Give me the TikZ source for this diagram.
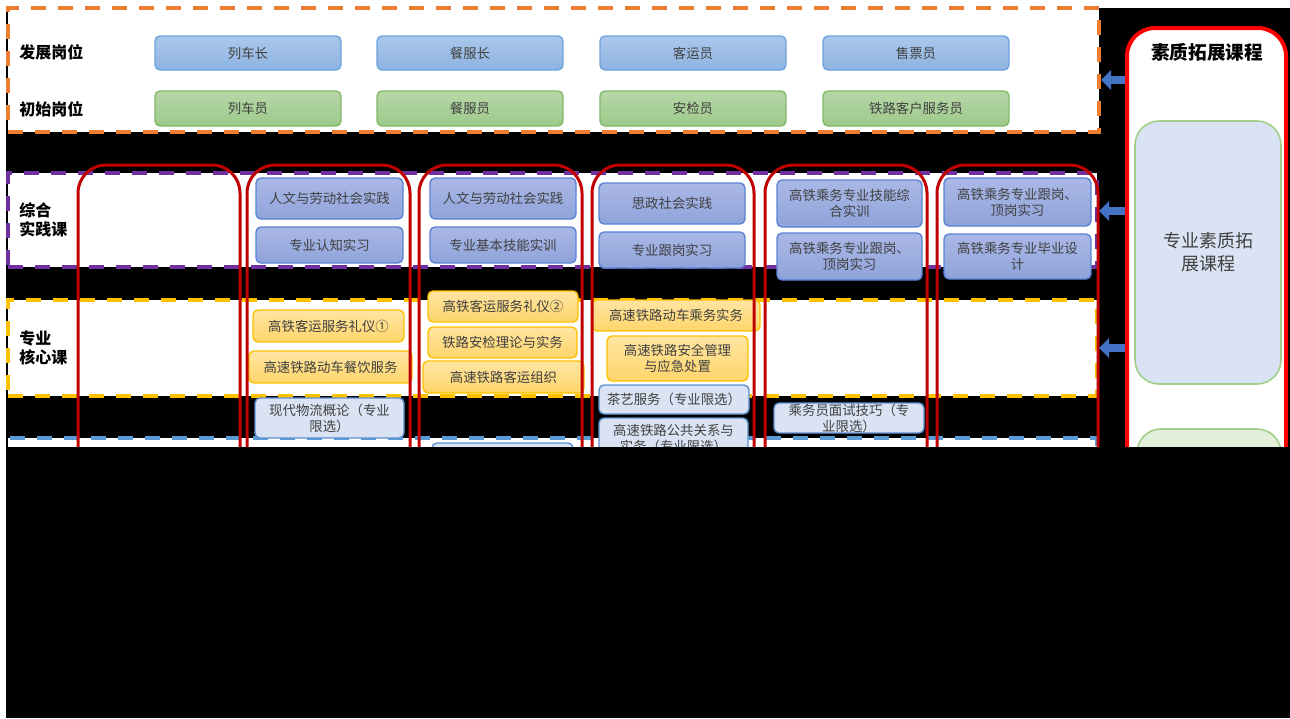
\documentclass[tikz,border=0pt]{standalone}
\usepackage{fontspec}
\setmainfont{Noto Sans CJK SC}
\usetikzlibrary{fit}
\usetikzlibrary{arrows.meta}
\definecolor{jobsorange}{RGB}{237,125,49}
\definecolor{pracpurple}{RGB}{112,48,160}
\definecolor{coregold}{RGB}{255,192,0}
\definecolor{elecblue}{RGB}{91,155,213}
\definecolor{termred}{RGB}{192,0,0}
\definecolor{qualred}{RGB}{255,0,0}
\definecolor{feedblue}{RGB}{68,114,196}
\definecolor{coursetext}{RGB}{64,64,64}
\tikzset{
  panel/.style={draw=#1, line width=2pt, dash pattern=on 7.5pt off 6pt, fill=white, inner sep=0pt},
  coursetxt/.style={align=center, inner sep=0pt, text=coursetext, font=\fontsize{6.7}{8}\selectfont},
  course/.style={rounded corners=2.5pt, line width=0.7pt, inner sep=0pt},
  devbox/.style={course, draw={rgb,255:red,111;green,163;blue,221},
    top color={rgb,255:red,171;green,199;blue,234}, bottom color={rgb,255:red,141;green,180;blue,226}},
  initbox/.style={course, draw={rgb,255:red,130;green,185;blue,106},
    top color={rgb,255:red,184;green,215;blue,168}, bottom color={rgb,255:red,156;green,201;blue,138}},
  pracbox/.style={course, draw={rgb,255:red,91;green,130;blue,212},
    top color={rgb,255:red,170;green,184;blue,230}, bottom color={rgb,255:red,143;green,163;blue,218}},
  corebox/.style={course, draw=coregold,
    top color={rgb,255:red,255;green,229;blue,163}, bottom color={rgb,255:red,255;green,213;blue,106}},
  elecbox/.style={course, draw={rgb,255:red,91;green,143;blue,208}, fill={rgb,255:red,218;green,227;blue,243}},
  rowlabel/.style={font=\bfseries\fontsize{8}{9.5}\selectfont, align=left, anchor=west, inner sep=0pt},
  term/.style={draw=termred, line width=1.5pt, rounded corners=14pt},
  % arrows from the quality courses into the rows
  feed/.style={draw=feedblue, line width=4pt, -{Triangle[length=5pt, width=9.5pt]}}
}

\begin{document}
\begin{tikzpicture}[x=0.5pt, y=-0.5pt]
  \useasboundingbox (0,0) rectangle (1290,718);
  \fill [white] (0,0) rectangle (1290,718);
  \fill [black] (6,8) rectangle (1290,718);

  % rows
  \node [panel=jobsorange, fit={(8,8) (1099,132)}] (jobs) {};
  \node [panel=pracpurple, fit={(8,173) (1097,267)}] (prac) {};
  \node [panel=coregold, fit={(8,300) (1097,396)}] (core) {};
  \node [panel=elecblue, fit={(8,438) (1097,680)}] (elec) {};

  \node [rowlabel] (lbldev) at (19,52) {发展岗位};
  \node [rowlabel] (lblinit) at (19,109) {初始岗位};
  \node [rowlabel] (lblprac) at (19,220) {综合\\实践课};
  \node [rowlabel] (lblcore) at (19,348) {专业\\核心课};

  \foreach \x/\dev/\init [count=\i] in {155/列车长/列车员, 377/餐服长/餐服员, 600/客运员/安检员, 823/售票员/铁路客户服务员} {
    \node [devbox, fit={(\x,36) (\x+186,70)}, label={[coursetxt]center:\dev}] (dev\i) {};
    \node [initbox, fit={(\x,91) (\x+186,126)}, label={[coursetxt]center:\init}] (init\i) {};
  }

  \foreach \xa/\ya/\xb/\yb/\txt [count=\i] in {
      256/178/403/219/人文与劳动社会实践, 256/227/403/263/专业认知实习,
      430/178/576/219/人文与劳动社会实践, 430/227/576/263/专业基本技能实训,
      599/183/745/224/思政社会实践, 599/232/745/268/专业跟岗实习,
      777/180/922/227/高铁乘务专业技能综\\合实训, 777/233/922/280/高铁乘务专业跟岗、\\顶岗实习,
      944/178/1091/226/高铁乘务专业跟岗、\\顶岗实习, 944/234/1091/279/高铁乘务专业毕业设\\计}
    \node [pracbox, fit={(\xa,\ya) (\xb,\yb)}, label={[coursetxt]center:\txt}] (prac\i) {};

  \foreach \xa/\ya/\xb/\yb/\txt [count=\i] in {
      253/310/404/342/高铁客运服务礼仪①, 249/351/412/383/高速铁路动车餐饮服务,
      428/291/578/322/高铁客运服务礼仪②, 428/327/577/358/铁路安检理论与实务,
      423/361/584/393/高速铁路客运组织,
      592/300/760/331/高速铁路动车乘务实务, 607/336/748/381/高速铁路安全管理\\与应急处置}
    \node [corebox, fit={(\xa,\ya) (\xb,\yb)}, label={[coursetxt]center:\txt}] (core\i) {};

  \foreach \xa/\ya/\xb/\yb/\txt [count=\i] in {
      255/398/404/438/现代物流概论（专业\\限选）, 432/443/573/480/{},
      599/385/749/414/茶艺服务（专业限选）, 599/418/748/458/高速铁路公共关系与\\实务（专业限选）,
      774/403/924/433/乘务员面试技巧（专\\业限选）}
    \node [elecbox, fit={(\xa,\ya) (\xb,\yb)}, label={[coursetxt]center:\txt}] (elec\i) {};

  % terms
  \foreach \xa/\xb in {78/240, 247/410, 419/582, 592/754, 765/927, 937/1098}
    \draw [term] (\xa,680) rectangle (\xb,165);

  % quality courses
  \node [draw=qualred, line width=2pt, fill=white, rounded corners=14pt, inner sep=0pt,
    fit={(1127,28) (1286,680)}] (qual) {};
  \node [font=\bfseries\fontsize{9.3}{11}\selectfont] (qualtitle) at (1207,52) {素质拓展课程};
  \node [draw={rgb,255:red,163;green,205;blue,138}, line width=0.8pt, rounded corners=12pt,
    fill={rgb,255:red,218;green,227;blue,243}, inner sep=0pt, fit={(1135,121) (1281,384)},
    label={[coursetxt, font=\fontsize{9}{11.5}\selectfont]center:专业素质拓\\展课程}] (qualpro) {};
  \node [draw={rgb,255:red,163;green,205;blue,138}, line width=0.8pt, rounded corners=12pt,
    fill={rgb,255:red,226;green,239;blue,218}, inner sep=0pt, fit={(1137,429) (1281,600)}] (qualgen) {};

  \coordinate (feedjobs) at ([yshift=-5pt]jobs.east);
  \coordinate (feedprac) at ([yshift=4.5pt]prac.east);
  \draw [feed] (qual.west |- feedjobs) -- (feedjobs);
  \draw [feed] (qual.west |- feedprac) -- (feedprac);
  \draw [feed] (qual.west |- core.east) -- (core.east);

  \fill [black] (6,447) rectangle (1290,718);
\end{tikzpicture}
\end{document}
